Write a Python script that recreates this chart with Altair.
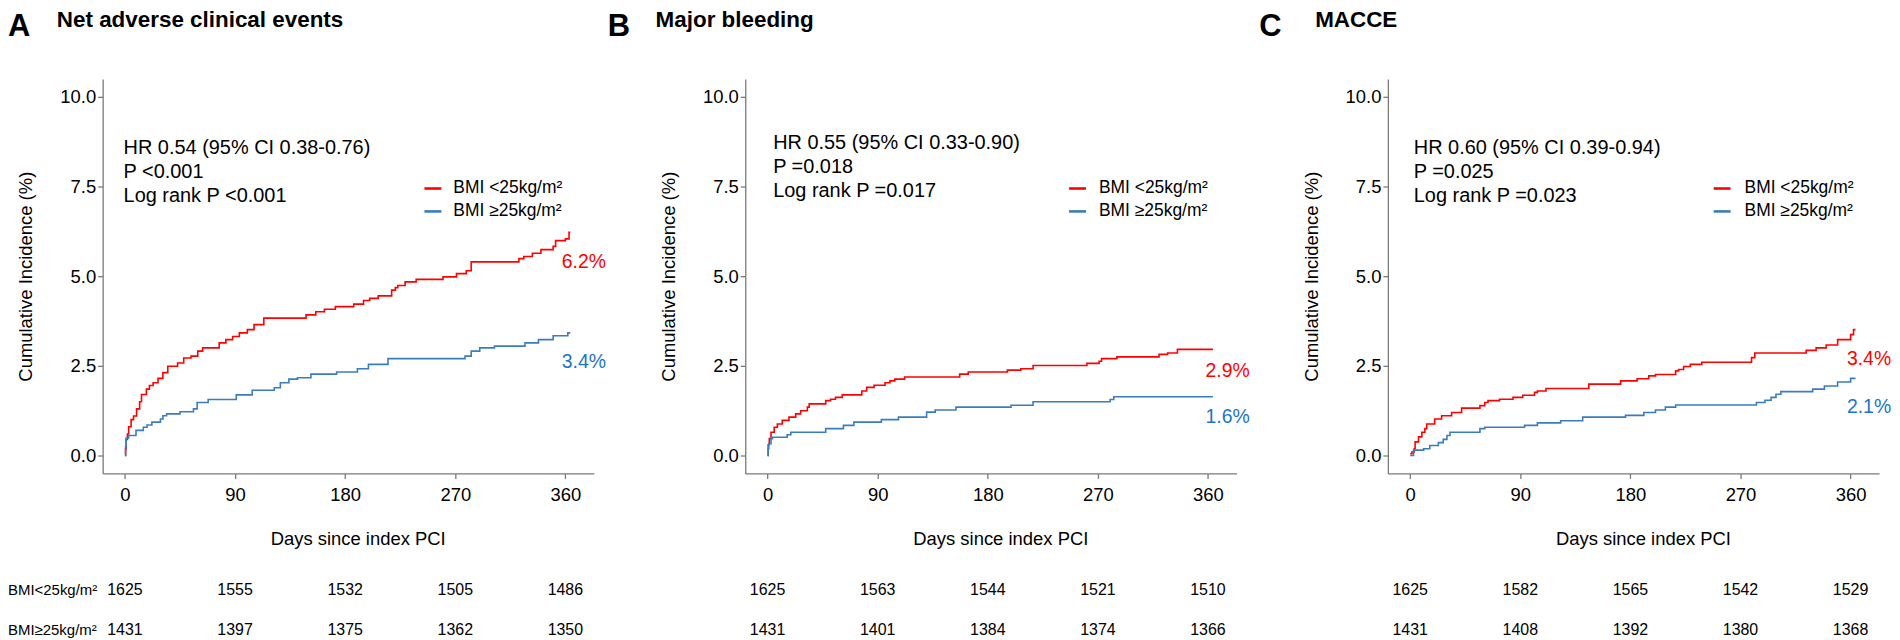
import altair as alt
import pandas as pd

FONT = "Liberation Sans"
RED = "#FF0000"
BLUE_LINE = "#3A7DBF"
BLUE_TEXT = "#1A74C8"
AXIS_GREY = "#7A7A7A"

DAY_TICKS = [0, 90, 180, 270, 360]
Y_TICKS = [0, 2.5, 5, 7.5, 10]
GROUPS = ["BMI <25kg/m²", "BMI ≥25kg/m²"]
RISK_LABELS = ["BMI<25kg/m²", "BMI≥25kg/m²"]

PANEL_LETTERS = ["A", "B", "C"]
PANEL_TITLES = ["Net adverse clinical events", "Major bleeding", "MACCE"]
HR_TEXT = ["HR 0.54 (95% CI 0.38-0.76)", "HR 0.55 (95% CI 0.33-0.90)", "HR 0.60 (95% CI 0.39-0.94)"]
P_TEXT = ["P <0.001", "P =0.018", "P =0.025"]
LOGRANK_TEXT = ["Log rank P <0.001", "Log rank P =0.017", "Log rank P =0.023"]
END_LT = ["6.2%", "2.9%", "3.4%"]
END_GE = ["3.4%", "1.6%", "2.1%"]

# ---- Panel A: net adverse clinical events ----
A_LT_DAYS = [0, 0.5, 1, 2, 3, 5, 7, 9.5, 12, 13.5, 17.5, 20, 23, 27, 31, 35, 43, 48, 54, 59.5,
             63.5, 77, 82.5, 88, 93.5, 100, 105.5, 113.5, 148, 156, 163, 172, 187, 195, 200, 207,
             218, 221, 223, 229, 238, 260, 271, 279, 283, 322, 326, 333, 340, 350, 352, 360, 363, 364]
A_LT_CUM = [0, 0.19, 0.45, 0.6, 0.8, 1.0, 1.1, 1.3, 1.5, 1.7, 1.85, 1.95, 2.03, 2.15, 2.31, 2.49, 2.58, 2.72, 2.77, 2.91,
            3.0, 3.14, 3.23, 3.32, 3.42, 3.51, 3.65, 3.83, 3.92, 4.01, 4.08, 4.15, 4.22, 4.32, 4.38, 4.45,
            4.61, 4.68, 4.74, 4.84, 4.91, 4.98, 5.07, 5.15, 5.40, 5.49, 5.55, 5.64, 5.74, 5.83, 5.99, 6.04, 6.22, 6.22]
A_GE_DAYS = [0, 0.5, 1, 3, 9, 15, 18, 22, 29, 31, 34, 45, 56, 59, 68, 91, 104, 122, 127, 134,
             141, 152, 173, 190, 199, 215, 278, 283, 290, 302, 327, 338, 350, 362, 364]
A_GE_CUM = [0, 0.25, 0.49, 0.56, 0.70, 0.79, 0.85, 0.93, 1.02, 1.11, 1.16, 1.22, 1.30, 1.48, 1.56, 1.69, 1.82, 1.89, 2.03, 2.13,
            2.17, 2.27, 2.33, 2.42, 2.54, 2.70, 2.77, 2.91, 3.0, 3.05, 3.14, 3.23, 3.34, 3.42, 3.42]

# ---- Panel B: major bleeding ----
B_LT_DAYS = [0, 0.5, 1.4, 2.8, 5.4, 8, 12, 17.5, 23, 27, 32.5, 34, 47.5, 51.5, 55.5, 61, 77, 81, 87, 96,
             100, 104, 112, 157, 164, 196, 207, 217, 261, 271, 273, 285.5, 320, 327, 335, 364]
B_LT_CUM = [0, 0.3, 0.47, 0.65, 0.79, 0.88, 0.98, 1.07, 1.16, 1.25, 1.35, 1.44, 1.53, 1.57, 1.62, 1.69, 1.80, 1.90, 1.96, 2.03,
            2.08, 2.13, 2.19, 2.27, 2.33, 2.38, 2.42, 2.51, 2.57, 2.63, 2.70, 2.75, 2.82, 2.86, 2.96, 2.96]
B_GE_DAYS = [0, 0.5, 1, 2.8, 4, 16, 19, 47.5, 62, 70.5, 93, 107, 130, 137, 154, 199, 217, 280, 283, 364]
B_GE_CUM = [0, 0.2, 0.33, 0.47, 0.51, 0.58, 0.65, 0.75, 0.84, 0.93, 1.00, 1.07, 1.21, 1.27, 1.35, 1.40, 1.50, 1.56, 1.64, 1.64]

# ---- Panel C: MACCE ----
C_LT_DAYS = [0, 1.4, 3.3, 4, 6.8, 9.5, 12, 13.5, 20, 25.7, 33.9, 42, 57, 61, 63.6, 73, 84, 92, 101.6, 104,
             111, 146, 172, 185.5, 195, 200.5, 217, 219.4, 223.5, 229, 238.4, 279, 281.7, 323.7, 331.8, 340,
             349.4, 360, 362.4, 364]
C_LT_CUM = [0.05, 0.1, 0.19, 0.38, 0.52, 0.65, 0.75, 0.88, 1.02, 1.11, 1.20, 1.32, 1.39, 1.48, 1.53, 1.57, 1.62, 1.68, 1.76, 1.80,
            1.87, 1.99, 2.08, 2.14, 2.22, 2.26, 2.36, 2.40, 2.48, 2.54, 2.60, 2.73, 2.86, 2.93, 3.0, 3.08,
            3.23, 3.37, 3.51, 3.51]
C_GE_DAYS = [0, 2.7, 11, 16, 23, 27, 30, 32.5, 57, 61, 93.5, 104, 123, 141, 176, 191, 200.5, 208.6, 217, 283,
             290, 295, 299, 303, 329, 338.6, 349.4, 360, 364]
C_GE_CUM = [0, 0.15, 0.19, 0.28, 0.36, 0.45, 0.56, 0.65, 0.75, 0.79, 0.84, 0.91, 0.97, 1.07, 1.12, 1.20, 1.27, 1.35, 1.41, 1.48,
            1.54, 1.62, 1.71, 1.78, 1.85, 1.94, 2.05, 2.15, 2.15]

# ---- numbers at risk ----
RISK_A_LT = [1625, 1555, 1532, 1505, 1486]
RISK_A_GE = [1431, 1397, 1375, 1362, 1350]
RISK_B_LT = [1625, 1563, 1544, 1521, 1510]
RISK_B_GE = [1431, 1401, 1384, 1374, 1366]
RISK_C_LT = [1625, 1582, 1565, 1542, 1529]
RISK_C_GE = [1431, 1408, 1392, 1380, 1368]

# ---- layout (pixels relative to each plot area / label anchor heights) ----
W, H = 493, 396
LAYOUT = [
    dict(letter_x=-95, title_x=-46, ann_x=21, ann_y=75, leg_x=323, leg_tx=352,
         end_day=357, end_lt_y=5.39, end_ge_y=2.60),
    dict(letter_x=-138, title_x=-90, ann_x=28, ann_y=70, leg_x=325, leg_tx=355,
         end_day=358, end_lt_y=2.35, end_ge_y=1.08),
    dict(letter_x=-129, title_x=-73, ann_x=26, ann_y=75, leg_x=327, leg_tx=358,
         end_day=357, end_lt_y=2.68, end_ge_y=1.35),
]

one = pd.DataFrame({"k": [0]})


def panel(i, lt_days, lt_cum, ge_days, ge_cum, risk_lt, risk_ge, first):
    L = LAYOUT[i]
    df = pd.concat([
        pd.DataFrame({"day": lt_days, "cum": lt_cum, "grp": GROUPS[0]}),
        pd.DataFrame({"day": ge_days, "cum": ge_cum, "grp": GROUPS[1]}),
    ], ignore_index=True)

    xscale = alt.Scale(domain=[-18.25, 383.25], nice=False, zero=False)
    yscale = alt.Scale(domain=[-0.5, 10.5], nice=False, zero=False)
    xaxis = alt.Axis(values=DAY_TICKS, title="Days since index PCI", grid=False,
                     titleX=256, titleY=65, titleBaseline="middle", titleAlign="center",
                     labelPadding=7, tickSize=5)
    yaxis = alt.Axis(values=Y_TICKS, format=".1f", title="Cumulative Incidence (%)", grid=False,
                     titleX=-77, titleY=H / 2, titleBaseline="middle", titleAlign="center",
                     labelPadding=2, tickSize=5)
    X = alt.X("day:Q", scale=xscale, axis=xaxis)
    Y = alt.Y("cum:Q", scale=yscale, axis=yaxis)

    lines = alt.Chart(df).mark_line(interpolate="step-after", strokeWidth=1.6).encode(
        x=X, y=Y,
        color=alt.Color("grp:N", scale=alt.Scale(domain=GROUPS, range=[RED, BLUE_LINE]), legend=None),
    )

    layers = [lines]

    # end-of-follow-up labels
    for lab, yv, col in [(END_LT[i], L["end_lt_y"], RED), (END_GE[i], L["end_ge_y"], BLUE_TEXT)]:
        d = pd.DataFrame({"day": [L["end_day"]], "cum": [yv], "t": [lab]})
        layers.append(alt.Chart(d).mark_text(align="left", baseline="middle", fontSize=19.5,
                                             font=FONT, color=col).encode(x=X, y=Y, text="t:N"))

    # annotation block
    layers.append(alt.Chart(one).mark_text(
        text=[HR_TEXT[i], P_TEXT[i], LOGRANK_TEXT[i]], align="left", baseline="alphabetic",
        fontSize=20, lineHeight=24.5, font=FONT, color="black"
    ).encode(x=alt.value(L["ann_x"]), y=alt.value(L["ann_y"])))

    # legend
    for g, col, yy in [(GROUPS[0], RED, 110), (GROUPS[1], BLUE_LINE, 133)]:
        d = pd.DataFrame({"g": [g]})
        layers.append(alt.Chart(d).mark_rule(color=col, strokeWidth=2.6).encode(
            x=alt.value(L["leg_x"]), x2=alt.value(L["leg_x"] + 17), y=alt.value(yy)))
        layers.append(alt.Chart(d).mark_text(align="left", baseline="middle", fontSize=17.5,
                                             font=FONT, color="black").encode(
            x=alt.value(L["leg_tx"]), y=alt.value(yy), text="g:N"))

    # panel letter and title
    layers.append(alt.Chart(one).mark_text(text=PANEL_LETTERS[i], align="left", baseline="alphabetic",
                                           fontSize=31, fontWeight="bold", font=FONT, color="black").encode(
        x=alt.value(L["letter_x"]), y=alt.value(-43)))
    layers.append(alt.Chart(one).mark_text(text=PANEL_TITLES[i], align="left", baseline="alphabetic",
                                           fontSize=22.5, fontWeight="bold", font=FONT, color="black").encode(
        x=alt.value(L["title_x"]), y=alt.value(-52)))

    # numbers at risk
    for vals, yy in [(risk_lt, 513), (risk_ge, 553)]:
        d = pd.DataFrame({"day": DAY_TICKS, "n": [str(v) for v in vals]})
        layers.append(alt.Chart(d).mark_text(align="center", baseline="middle", fontSize=16,
                                             font=FONT, color="black").encode(
            x=X, y=alt.value(yy), text="n:N"))
    if first:
        for lab, yy in [(RISK_LABELS[0], 513), (RISK_LABELS[1], 553)]:
            layers.append(alt.Chart(one).mark_text(text=lab, align="left", baseline="middle",
                                                   fontSize=15, font=FONT, color="black").encode(
                x=alt.value(-95), y=alt.value(yy)))

    return alt.layer(*layers).properties(width=W, height=H)


pA = panel(0, A_LT_DAYS, A_LT_CUM, A_GE_DAYS, A_GE_CUM, RISK_A_LT, RISK_A_GE, True)
pB = panel(1, B_LT_DAYS, B_LT_CUM, B_GE_DAYS, B_GE_CUM, RISK_B_LT, RISK_B_GE, False)
pC = panel(2, C_LT_DAYS, C_LT_CUM, C_GE_DAYS, C_GE_CUM, RISK_C_LT, RISK_C_GE, False)

chart = alt.hconcat(pA, pB, pC, spacing=152, bounds="flush").resolve_scale(
    x="independent", y="independent", color="independent"
).properties(padding=0, background="white").configure_view(stroke=None).configure_axis(
    labelFont=FONT, titleFont=FONT, labelFontSize=18.5, titleFontSize=18.5, titleFontWeight="normal",
    labelColor="black", titleColor="black", domainColor=AXIS_GREY, tickColor=AXIS_GREY,
    domainWidth=1.3, tickWidth=1.3
)

chart.save("out.html", embed_options={"renderer": "svg", "actions": False})
